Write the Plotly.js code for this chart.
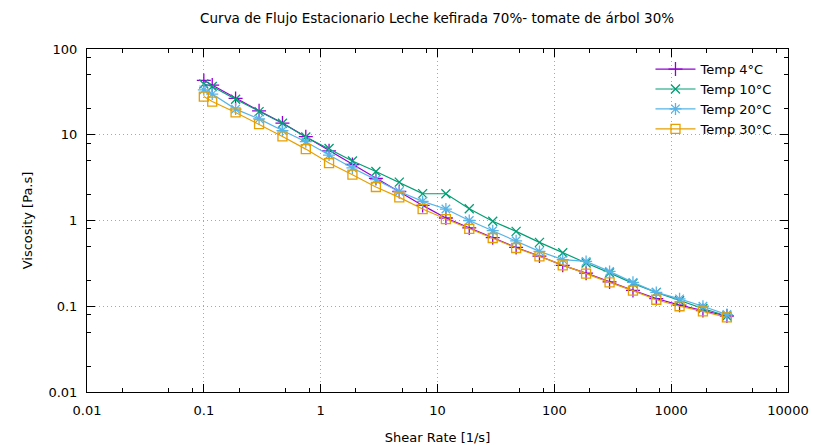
<!DOCTYPE html>
<html>
<head>
<meta charset="utf-8">
<script src="https://cdn.plot.ly/plotly-3.0.1.min.js"></script>
<style>html,body{margin:0;padding:0;background:#fff;}#chart{width:814px;height:447px;}</style>
</head>
<body>
<div id="chart"></div>
<script>
// Shear rate [1/s]
const shearRate = [0.1, 0.118, 0.187, 0.297, 0.471, 0.746, 1.18, 1.87, 2.97, 4.71, 7.46, 11.8, 18.7, 29.7, 47.1, 74.6, 118, 187, 297, 471, 746, 1180, 1870, 3000];
// Viscosity [Pa.s] per temperature
const temp4  = [43, 38, 26.5, 19, 13.7, 9.5, 6.5, 4.5, 3.1, 2.18, 1.5, 1.07, 0.82, 0.63, 0.485, 0.385, 0.30, 0.243, 0.192, 0.153, 0.123, 0.103, 0.089, 0.077];
const temp10 = [39, 36.5, 26, 18.6, 13.6, 9.4, 6.9, 4.95, 3.73, 2.8, 2.06, 2.05, 1.37, 0.98, 0.746, 0.556, 0.42, 0.32, 0.245, 0.185, 0.145, 0.116, 0.094, 0.077];
const temp20 = [33.4, 29.8, 19.9, 15.3, 11.2, 8.3, 5.8, 4.1, 3.0, 2.18, 1.67, 1.36, 1.0, 0.76, 0.58, 0.436, 0.35, 0.333, 0.255, 0.19, 0.145, 0.122, 0.10, 0.08];
const temp30 = [27.9, 24.4, 18.2, 13.3, 9.55, 6.8, 4.68, 3.42, 2.46, 1.86, 1.36, 1.04, 0.80, 0.625, 0.478, 0.382, 0.30, 0.24, 0.19, 0.152, 0.119, 0.10, 0.087, 0.074];

const seriesNames = ['Temp 4°C', 'Temp 10°C', 'Temp 20°C', 'Temp 30°C'];
const xTicks = [0.01, 0.1, 1, 10, 100, 1000, 10000];
const xTickText = ['0.01', '0.1', '1', '10', '100', '1000', '10000'];
const yTicks = [0.01, 0.1, 1, 10, 100];
const yTickText = ['0.01', '0.1', '1', '10', '100'];
const xMinorTicks = [0.02, 0.05, 0.08, 0.2, 0.5, 0.8, 2, 5, 8, 20, 50, 80, 200, 500, 800, 2000, 5000, 8000];
const yMinorTicks = [0.02, 0.05, 0.08, 0.2, 0.5, 0.8, 2, 5, 8, 20, 50, 80];

const colors = ['#9400D3', '#009E73', '#56B4E9', '#E69F00'];
const symbols = ['cross-thin-open', 'x-thin-open', 'asterisk-open', 'square-open'];
const sizes = [10, 9, 10, 9];
const ys = [temp4, temp10, temp20, temp30];

const traces = ys.map((y, i) => ({
  x: shearRate, y: y, name: seriesNames[i], type: 'scatter', mode: 'lines+markers',
  line: {color: colors[i], width: 1.2},
  marker: {symbol: symbols[i], size: sizes[i], color: colors[i], line: {color: colors[i], width: 1.3}}
}));

const font = {family: 'DejaVu Sans, sans-serif', size: 13, color: '#000'};
const titleFont = {family: 'DejaVu Sans, sans-serif', size: 13.5, color: '#000'};
const axisCommon = {
  type: 'log', showline: true, linecolor: '#000', linewidth: 1, mirror: 'allticks',
  ticks: 'inside', ticklen: 8, tickcolor: '#000', tickwidth: 1,
  showgrid: true, gridcolor: '#a8a8a8', griddash: '1px,3px', gridwidth: 1,
  zeroline: false, tickfont: font, ticklabelstandoff: 6
};

const layout = {
  width: 814, height: 447,
  margin: {l: 87, r: 26, t: 49, b: 55},
  paper_bgcolor: '#fff', plot_bgcolor: '#fff',
  font: font,
  title: {text: 'Curva de Flujo Estacionario Leche kefirada 70%- tomate de árbol 30%', font: titleFont, x: 0.537, xanchor: 'center', y: 0.96, yanchor: 'middle'},
  xaxis: Object.assign({}, axisCommon, {range: [-2, 4], tickvals: xTicks, ticktext: xTickText,
    minor: {tickvals: xMinorTicks, ticks: 'inside', ticklen: 4, tickcolor: '#000', showgrid: false},
    title: {text: 'Shear Rate [1/s]', font: font, standoff: 16}}),
  yaxis: Object.assign({}, axisCommon, {range: [-2, 2], tickvals: yTicks, ticktext: yTickText,
    minor: {tickvals: yMinorTicks, ticks: 'inside', ticklen: 4, tickcolor: '#000', showgrid: false},
    title: {text: 'Viscosity [Pa.s]', font: font, standoff: 12}}),
  legend: {x: 0.985, y: 0.985, xanchor: 'right', yanchor: 'top', bgcolor: 'rgba(0,0,0,0)', font: font, tracegroupgap: 0, itemwidth: 40},
  showlegend: true
};

Plotly.newPlot('chart', traces, layout, {displayModeBar: false, staticPlot: true});
</script>
</body>
</html>
